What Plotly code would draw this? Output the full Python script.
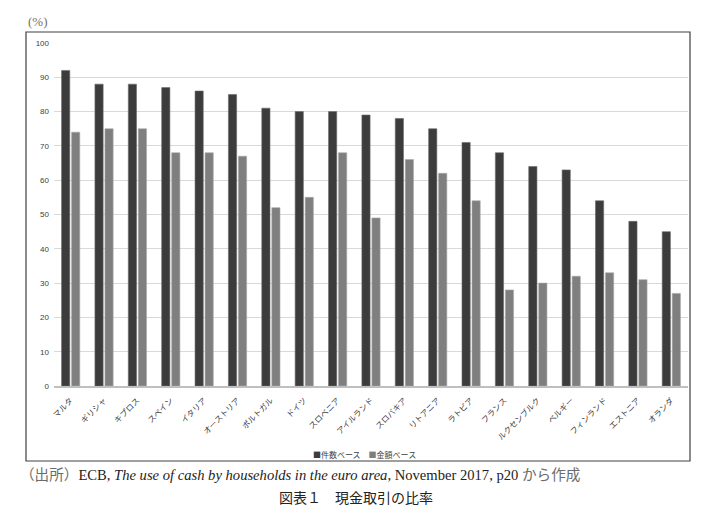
import plotly.graph_objects as go

countries = ["マルタ", "ギリシャ", "キプロス", "スペイン", "イタリア", "オーストリア", "ポルトガル",
             "ドイツ", "スロベニア", "アイルランド", "スロバキア", "リトアニア", "ラトビア", "フランス",
             "ルクセンブルク", "ベルギー", "フィンランド", "エストニア", "オランダ"]
count_based = [92, 88, 88, 87, 86, 85, 81, 80, 80, 79, 78, 75, 71, 68, 64, 63, 54, 48, 45]
value_based = [74, 75, 75, 68, 68, 67, 52, 55, 68, 49, 66, 62, 54, 28, 30, 32, 33, 31, 27]
series_names = ["件数ベース", "金額ベース"]
series_colors = ["#3c3c3c", "#7f7f7f"]
y_ticks = list(range(0, 101, 10))

W, H = 718, 514
L, R, T, B = 54, 30, 43, 128
pw, ph = W - L - R, H - T - B

def px(x):
    return (x - L) / pw

def py(y):
    return (H - B - y) / ph

JP = "Noto Sans CJK JP, sans-serif"

fig = go.Figure()
fig.add_trace(go.Bar(x=countries, y=count_based, name=series_names[0],
                     marker=dict(color=series_colors[0], line=dict(color="#6a6a6a", width=0.6))))
fig.add_trace(go.Bar(x=countries, y=value_based, name=series_names[1],
                     marker=dict(color=series_colors[1], line=dict(color="#a8a8a8", width=0.6))))

fig.update_layout(
    width=W, height=H,
    margin=dict(l=L, r=R, t=T, b=B),
    paper_bgcolor="white", plot_bgcolor="white",
    barmode="group", bargap=0.4, bargroupgap=0.18,
    showlegend=False,
    font=dict(family=JP),
)
fig.update_xaxes(showgrid=False, tickangle=-45, tickfont=dict(family=JP, size=8, color="#404040"),
                 showline=True, linecolor="#bfbfbf", linewidth=1.5, ticks="", ticklabelstandoff=5)
fig.update_yaxes(range=[0, 100], tickvals=y_ticks, showgrid=True, gridcolor="#d9d9d9", gridwidth=1,
                 zeroline=False, showline=False, ticks="", ticklen=0, ticklabelstandoff=4,
                 tickfont=dict(family="Liberation Sans, Arial", size=8, color="#404040"))

# outer frame
fig.add_shape(type="rect", xref="paper", yref="paper",
              x0=px(26), x1=px(690), y0=py(461), y1=py(32),
              line=dict(color="#404040", width=1.2), fillcolor="rgba(0,0,0,0)", layer="below")

# compact legend
legend_text = "　".join(
    f"<span style='color:{c}'>■</span>{n}" for n, c in zip(series_names, series_colors))
fig.add_annotation(xref="paper", yref="paper", x=px(364), y=py(455), xanchor="center", yanchor="middle",
                   text=legend_text, showarrow=False,
                   font=dict(family=JP, size=8, color="#404040"))

fig.add_annotation(xref="paper", yref="paper", x=px(26), y=py(22), xanchor="left", yanchor="middle",
                   text="(%)", showarrow=False,
                   font=dict(family="Liberation Serif, serif", size=13, color="#7a7060"))

fig.add_annotation(xref="paper", yref="paper", x=px(18), y=py(475), xanchor="left", yanchor="middle",
                   text="<span style='color:#6b6b6b'>（出所）</span>ECB, <i>The use of cash by households in the euro area</i>, November 2017, p20 <span style='color:#6b6b6b'>から作成</span>",
                   showarrow=False,
                   font=dict(family="Liberation Serif, Noto Sans CJK JP, serif", size=14.6, color="#222222"))

fig.add_annotation(xref="paper", yref="paper", x=px(356), y=py(497), xanchor="center", yanchor="middle",
                   text="図表１　現金取引の比率", showarrow=False,
                   font=dict(family=JP, size=14, color="#222222"))

fig.write_html("out.html")
